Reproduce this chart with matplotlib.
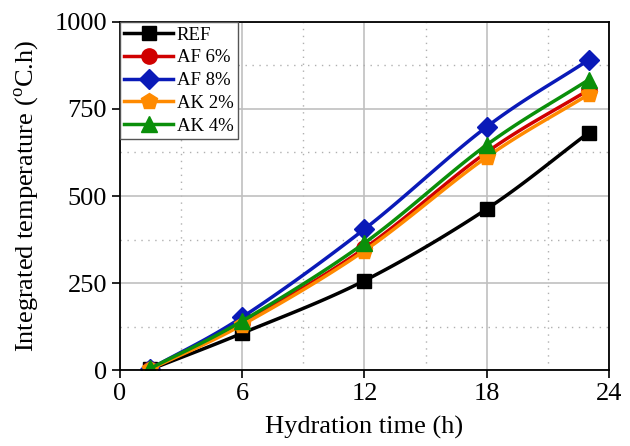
import numpy as np
import matplotlib.pyplot as plt
from matplotlib.ticker import MultipleLocator

# ==========================
# Dados
# ==========================
hours = [1.5, 6, 12, 18, 23]
ref = [2, 106, 257, 463, 682]
af6 = [3, 135, 350, 626, 805]
af8 = [4, 152, 405, 699, 891]
ak2 = [3, 130, 343, 612, 792]
ak4 = [5, 141, 365, 647, 834]

series = [
    ("REF", ref, "black", "s", 10),
    ("AF 6%", af6, "#d00000", "o", 11),
    ("AF 8%", af8, "#0a1ab8", "D", 10),
    ("AK 2%", ak2, "#ff8a00", "p", 12),
    ("AK 4%", ak4, "#0a8f0a", "^", 11),
]

plt.rcParams['font.family'] = ['Liberation Serif', 'DejaVu Serif']
plt.rcParams['mathtext.fontset'] = 'custom'
plt.rcParams['mathtext.rm'] = 'Liberation Serif'


def smooth(x, y, n=30):
    # curva Catmull-Rom passando pelos pontos
    x = np.asarray(x, float)
    y = np.asarray(y, float)
    px = np.concatenate([[2 * x[0] - x[1]], x, [2 * x[-1] - x[-2]]])
    py = np.concatenate([[2 * y[0] - y[1]], y, [2 * y[-1] - y[-2]]])
    xs, ys = [], []
    t = np.linspace(0, 1, n)
    for i in range(1, len(px) - 2):
        for p, out in ((px, xs), (py, ys)):
            p0, p1, p2, p3 = p[i - 1], p[i], p[i + 1], p[i + 2]
            out.append(0.5 * ((2 * p1) + (-p0 + p2) * t
                              + (2 * p0 - 5 * p1 + 4 * p2 - p3) * t ** 2
                              + (-p0 + 3 * p1 - 3 * p2 + p3) * t ** 3))
    return np.concatenate(xs), np.concatenate(ys)


# ==========================
# Gráfico
# ==========================
fig = plt.figure(figsize=(6.3, 4.46), dpi=100)
ax = fig.add_axes([0.19, 0.17, 0.777, 0.781])

for label, vals, color, marker, ms in series:
    sx, sy = smooth(hours, vals)
    ax.plot(sx, sy, color=color, lw=2.5)
    ax.plot(hours, vals, color=color, lw=0, marker=marker, ms=ms)
    ax.plot([], [], color=color, lw=2.5, marker=marker, ms=ms, label=label)

ax.set_xlim(0, 24)
ax.set_ylim(0, 1000)
ax.xaxis.set_major_locator(MultipleLocator(6))
ax.xaxis.set_minor_locator(MultipleLocator(3))
ax.yaxis.set_major_locator(MultipleLocator(250))
ax.yaxis.set_minor_locator(MultipleLocator(125))

ax.grid(True, which='major', color='#c0c0c0', lw=1.2)
ax.grid(True, which='minor', color='#b0b0b0', lw=1, ls=(0, (1, 4)))
ax.set_axisbelow(True)

ax.tick_params(which='major', direction='out', length=6, width=1.2,
               labelsize=19, colors='black', pad=3)
ax.tick_params(which='minor', length=0)
for s in ax.spines.values():
    s.set_linewidth(1.3)

ax.set_xlabel("Hydration time (h)", fontsize=19, labelpad=8)
ax.set_ylabel(r"Integrated temperature ($^{\mathrm{o}}$C.h)", fontsize=19,
              labelpad=10)

leg = ax.legend(loc='upper left', fontsize=13.5, fancybox=False,
                framealpha=1, edgecolor='#555555', borderaxespad=0,
                handlelength=2.6, handletextpad=0.2, labelspacing=0.3,
                borderpad=0.25)
leg.get_frame().set_linewidth(1)

plt.savefig("out.png", dpi=100)
plt.close()
